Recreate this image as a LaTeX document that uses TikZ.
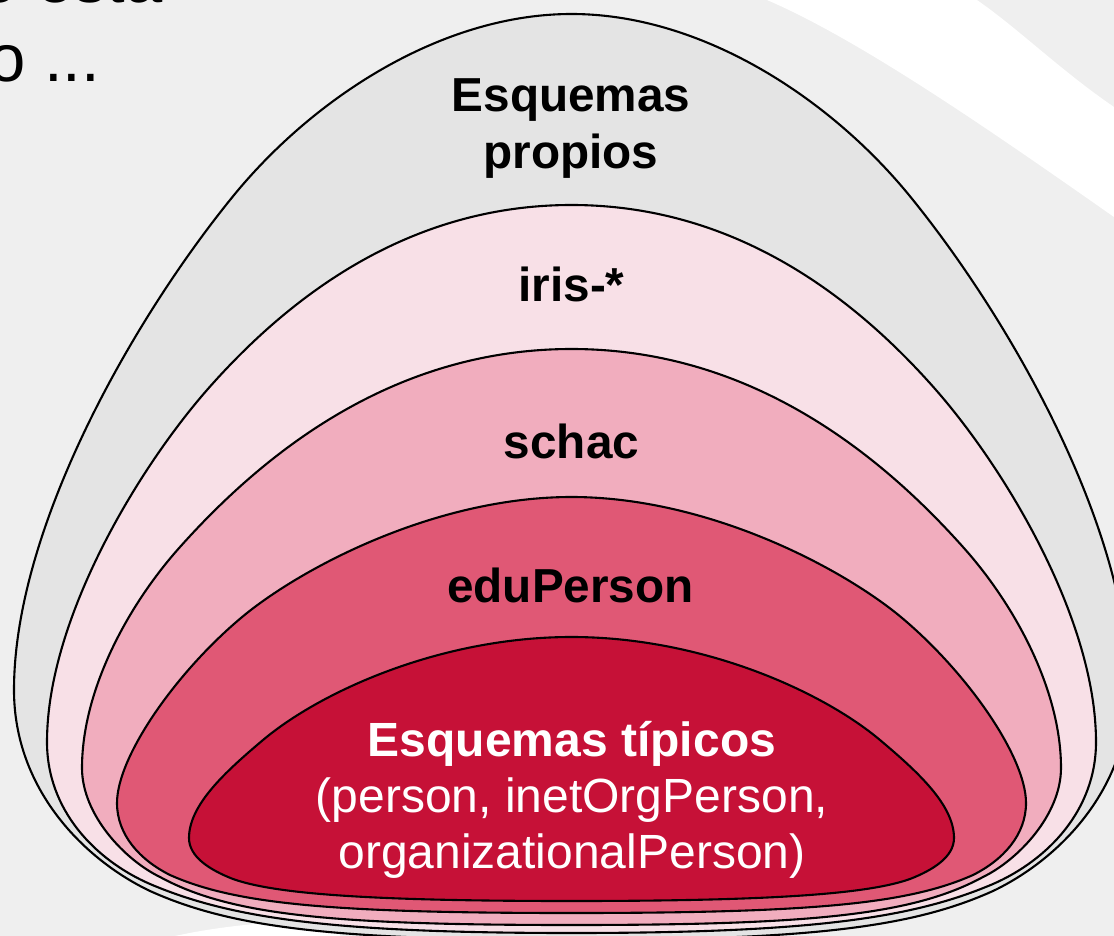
\documentclass[tikz,border=0pt]{standalone}
\usepackage{fontspec}
\setmainfont{Liberation Sans}
\definecolor{bgc}{HTML}{EFEFEF}
\definecolor{outerc}{HTML}{E4E4E4}
\definecolor{irisc}{HTML}{F8E0E7}
\definecolor{schacc}{HTML}{F1ADBE}
\definecolor{educ}{HTML}{E05875}
\definecolor{typc}{HTML}{C61137}
% \domeshape{fill}{left x}{left y}{top y}{bottom y}
%   {c1y}{c2x}{c2y}{mx}{my}{c3x}{c3y}{c4x}   upper half, left side
%   {c1y}{c2x}{c2y}{mx}{my}{c3x}{c3y}{c4x}   lower half, left side
\newcommand{\domeshape}[5]{\def\dfill{#1}\def\dlx{#2}\def\dly{#3}\def\dtop{#4}\def\dbot{#5}\domeupper}
\newcommand{\domeupper}[8]{\def\ua{#1}\def\ub{#2}\def\uc{#3}\def\ud{#4}\def\ue{#5}\def\uf{#6}\def\ug{#7}\def\uh{#8}\domelower}
\newcommand{\domelower}[8]{%
  \draw[domeline,fill=\dfill]
    (\dlx,\dly)
    .. controls (\dlx,\ua) and (\ub,\uc) .. (\ud,\ue)
    .. controls (\uf,\ug) and (\uh,\dtop) .. (571.5,\dtop)
    .. controls ({1143-\uh},\dtop) and ({1143-\uf},\ug) .. ({1143-\ud},\ue)
    .. controls ({1143-\ub},\uc) and ({1143-\dlx},\ua) .. ({1143-\dlx},\dly)
    .. controls ({1143-\dlx},#1) and ({1143-#2},#3) .. ({1143-#4},#5)
    .. controls ({1143-#6},#7) and ({1143-#8},\dbot) .. (571.5,\dbot)
    .. controls (#8,\dbot) and (#6,#7) .. (#4,#5)
    .. controls (#2,#3) and (\dlx,#1) .. (\dlx,\dly) -- cycle;}
\tikzset{
  domeline/.style={draw=black,line width=2.1pt},
  blacklabel/.style={text=black,font=\fontsize{47.7}{57}\selectfont\bfseries,align=center,inner sep=0pt},
  whitelabel/.style={text=white,font=\fontsize{48}{56}\selectfont,align=center,inner sep=0pt},
  slidetext/.style={text=black,font=\fontsize{67}{67}\selectfont,anchor=base west,inner sep=0pt}
}
\begin{document}
\begin{tikzpicture}[x=1pt,y=-1pt]
\useasboundingbox (0,0) rectangle (1114,936);
\clip (0,0) rectangle (1114,936);
\fill[bgc] (0,0) rectangle (1114,936);
% white swooshes of the slide background
\fill[white] (767,0) .. controls (860,40) and (990,130) .. (1114,217) -- (1114,107)
   .. controls (1060,70) and (1020,30) .. (977,0) -- cycle;
\fill[white] (175,936) .. controls (220,926) and (280,920) .. (340,920) -- (340,936) -- cycle;
% slide text
\node[slidetext] (line1) at (-20,3) {o esta};
\node[slidetext] (line2) at (-12,82) {o ...};
% domes
\domeshape{outerc}{14}{690}{14}{940}
  {530}{130}{324}{230}{200}{310}{100}{440}
  {790}{85}{860}{150}{891}{230}{927}{330}
\domeshape{irisc}{47}{742}{205}{933}
  {620}{137}{470}{207}{390}{300}{284}{420}
  {810}{95}{860}{150}{884}{230}{918}{330}
\domeshape{schacc}{82}{768}{349}{925}
  {690}{128}{605}{180}{547}{280}{435}{409}
  {815}{125}{860}{160}{877}{230}{915}{330}
\domeshape{educ}{117}{803}{497}{913}
  {755}{180}{667}{247}{613}{310}{563}{440}
  {835}{140}{860}{170}{875}{235}{904}{330}
\domeshape{typc}{189}{838}{637}{901}
  {805}{225}{772}{263}{740}{320}{692}{440}
  {857}{210}{870}{233}{879}{275}{894}{370}
% labels
\node[blacklabel] (own) at (571,129) {Esquemas\\propios};
\node[blacklabel] (iris) at (571.5,284) {iris-*};
\node[blacklabel] (schac) at (571.5,441) {schac};
\node[blacklabel] (edu) at (570.5,585) {eduPerson};
\node[whitelabel] (typ) at (572,800) {\textbf{Esquemas típicos}\\(person, inetOrgPerson,\\organizationalPerson)};
\end{tikzpicture}
\end{document}
